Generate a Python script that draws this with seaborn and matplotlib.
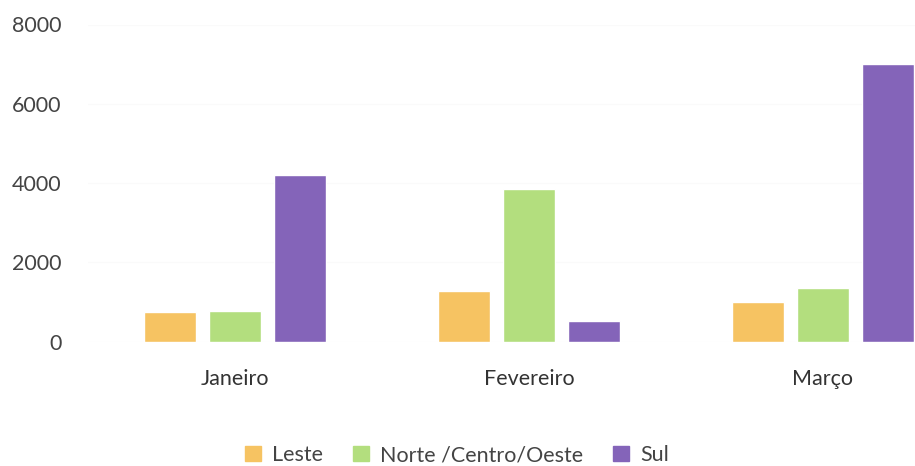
import matplotlib
matplotlib.use("Agg")
import matplotlib.pyplot as plt
import seaborn as sns
import pandas as pd

# values
months = ["Janeiro", "Fevereiro", "Março"]
regions = ["Leste", "Norte /Centro/Oeste", "Sul"]
leste = [750, 1275, 1000]
norte_centro_oeste = [770, 3850, 1350]
sul = [4200, 520, 7000]
y_ticks = [0, 2000, 4000, 6000, 8000]

colors = ["#F6C362", "#B3DE7E", "#8464B9"]

df = pd.DataFrame({
    "mes": months * 3,
    "regiao": [r for r in regions for _ in months],
    "valor": leste + norte_centro_oeste + sul,
})

sns.set_theme(style="white")
plt.rcParams["font.family"] = ["Lato", "DejaVu Sans"]

W, H = 915, 466
fig = plt.figure(figsize=(W / 100, H / 100), dpi=100)
# plot area: left edge 88px, group spacing 294px, right side cut by the figure edge
left, right = 88, 88 + 3 * 294
bottom, top = 341.5, 24.5
ax = fig.add_axes([left / W, (H - bottom) / H, (right - left) / W, (bottom - top) / H])

sns.barplot(
    data=df, x="mes", y="valor", hue="regiao", order=months, hue_order=regions,
    palette=colors, width=0.663, gap=0.2, saturation=1, ax=ax, legend=False,
)

ax.set_xlim(-0.5, 2.5)
ax.set_ylim(0, 8000)
ax.set_yticks(y_ticks)
ax.set_yticklabels([str(v) for v in y_ticks])
ax.set_xlabel("")
ax.set_ylabel("")
for s in ax.spines.values():
    s.set_visible(False)
ax.yaxis.grid(True, color="#fafafa", linewidth=1)
ax.set_axisbelow(True)
ax.tick_params(axis="y", length=0, pad=19, labelsize=15.5, labelcolor="#444444")
ax.tick_params(axis="x", length=0, pad=20, labelsize=15.5, labelcolor="#333333")

handles = [plt.Rectangle((0, 0), 1, 1, color=c) for c in colors]
fig.legend(
    handles, regions, loc="center", bbox_to_anchor=(457 / W, 1 - 455 / H),
    ncol=3, frameon=False, fontsize=15.5, handlelength=0.75, handleheight=0.75,
    handletextpad=0.5, columnspacing=1.4, labelcolor="#444444",
)

fig.savefig("out.png", dpi=100)
